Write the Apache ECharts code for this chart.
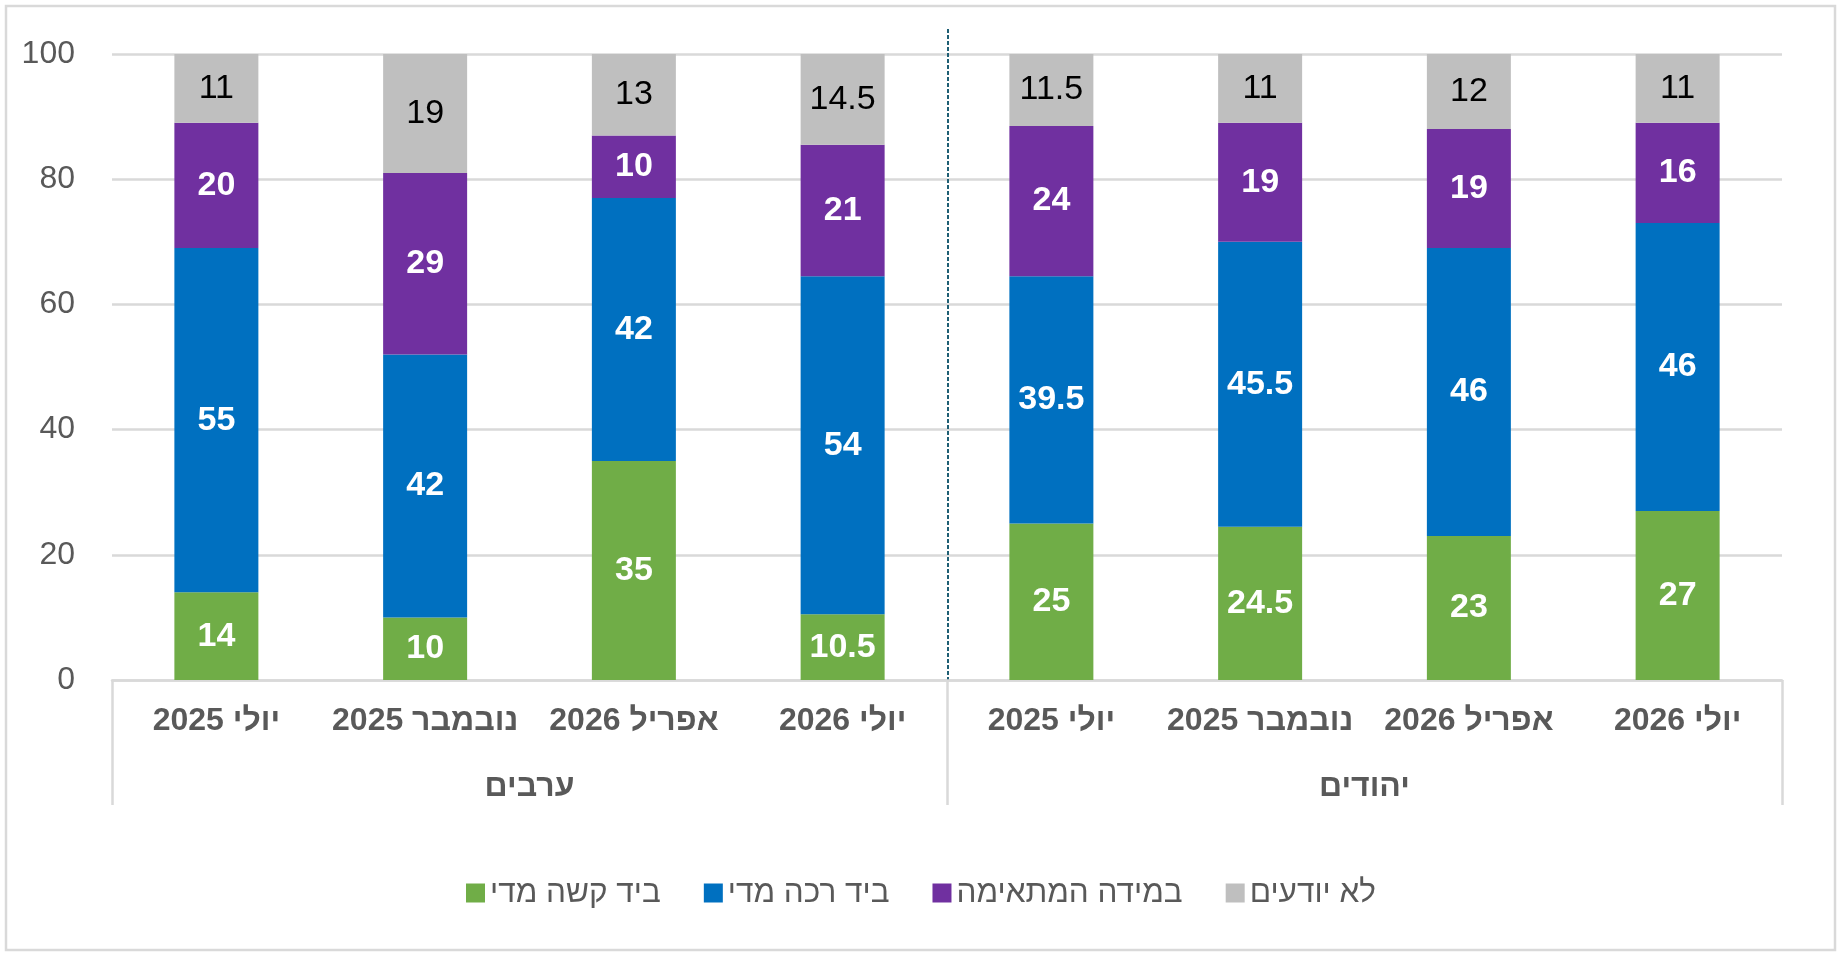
<!DOCTYPE html>
<html>
<head>
<meta charset="utf-8">
<script src="https://cdn.jsdelivr.net/npm/echarts@6/dist/echarts.min.js"></script>
<style>
  html, body { margin: 0; padding: 0; background: #fff; }
  #chart { width: 1842px; height: 958px; }
</style>
</head>
<body>
<div id="chart"></div>
<script>
var categories = ['יולי 2025', 'נובמבר 2025', 'אפריל 2026', 'יולי 2026',
                  'יולי 2025', 'נובמבר 2025', 'אפריל 2026', 'יולי 2026'];
var groups = ['ערבים', 'יהודים'];
var yTicks = { min: 0, max: 100, interval: 20 };

var tooHard = [14, 10, 35, 10.5, 25, 24.5, 23, 27];
var tooSoft = [55, 42, 42, 54, 39.5, 45.5, 46, 46];
var justRight = [20, 29, 10, 21, 24, 19, 19, 16];
var dontKnow = [11, 19, 13, 14.5, 11.5, 11, 12, 11];

var seriesNames = ['ביד קשה מדי', 'ביד רכה מדי', 'במידה המתאימה', 'לא יודעים'];
var colors = ['#70ad47', '#0070c0', '#7030a0', '#bfbfbf'];

var font = '"Liberation Sans", Arial, sans-serif';
var gridColor = '#d9d9d9';

function makeSeries(name, data, color, dark) {
    return {
        name: name,
        type: 'bar',
        stack: 'total',
        data: data,
        barWidth: 84,
        itemStyle: { color: color },
        label: {
            show: true,
            position: 'inside',
            fontFamily: font,
            fontSize: 34,
            fontWeight: dark ? 'normal' : 'bold',
            color: dark ? '#000' : '#fff'
        },
        emphasis: { disabled: true }
    };
}

var chart = echarts.init(document.getElementById('chart'));
var option = {
    animation: false,
    textStyle: { fontFamily: font },
    grid: { left: 112, right: 60, top: 54, bottom: 278 },
    legend: {
        data: seriesNames,
        top: 872,
        left: 'center',
        icon: 'rect',
        itemWidth: 19,
        itemHeight: 19,
        itemGap: 43,
        textStyle: { fontFamily: font, fontSize: 31.5, color: '#595959' }
    },
    xAxis: [
        {
            type: 'category',
            data: categories,
            position: 'bottom',
            axisLine: { show: true, lineStyle: { color: gridColor, width: 2.5 } },
            axisTick: { show: false },
            axisLabel: {
                interval: 0,
                margin: 25,
                fontFamily: font,
                fontSize: 32,
                fontWeight: 'bold',
                color: '#595959'
            }
        },
        {
            type: 'category',
            data: groups,
            position: 'bottom',
            axisLine: { show: false },
            axisTick: {
                show: true,
                interval: 0,
                length: 125,
                lineStyle: { color: gridColor, width: 2.5 }
            },
            axisLabel: {
                interval: 0,
                margin: 91,
                fontFamily: font,
                fontSize: 32,
                fontWeight: 'bold',
                color: '#595959'
            }
        }
    ],
    yAxis: {
        type: 'value',
        min: yTicks.min,
        max: yTicks.max,
        interval: yTicks.interval,
        axisLine: { show: false },
        axisTick: { show: false },
        splitLine: { lineStyle: { color: gridColor, width: 2.5 } },
        axisLabel: { margin: 37, fontFamily: font, fontSize: 32, color: '#595959' }
    },
    series: [
        makeSeries(seriesNames[0], tooHard, colors[0], false),
        makeSeries(seriesNames[1], tooSoft, colors[1], false),
        makeSeries(seriesNames[2], justRight, colors[2], false),
        makeSeries(seriesNames[3], dontKnow, colors[3], true)
    ]
};
chart.setOption(option);

// dashed divider between the two groups, placed from the axis scales
var xa = chart.convertToPixel({ xAxisIndex: 0 }, categories.length / 2 - 1);
var xb = chart.convertToPixel({ xAxisIndex: 0 }, categories.length / 2);
var xMid = Math.round((xa + xb) / 2) + 1;
var yTop = chart.convertToPixel({ yAxisIndex: 0 }, 104);
var yBottom = chart.convertToPixel({ yAxisIndex: 0 }, 0);

chart.setOption({
    graphic: [
        {
            type: 'rect',
            silent: true,
            shape: { x: 6, y: 6, width: 1829, height: 944 },
            style: { fill: 'none', stroke: gridColor, lineWidth: 2.5 }
        },
        {
            type: 'line',
            silent: true,
            shape: { x1: xMid, y1: yTop, x2: xMid, y2: yBottom },
            style: { stroke: '#1f5f74', lineWidth: 2, lineDash: [4, 2] }
        }
    ]
});
</script>
</body>
</html>
